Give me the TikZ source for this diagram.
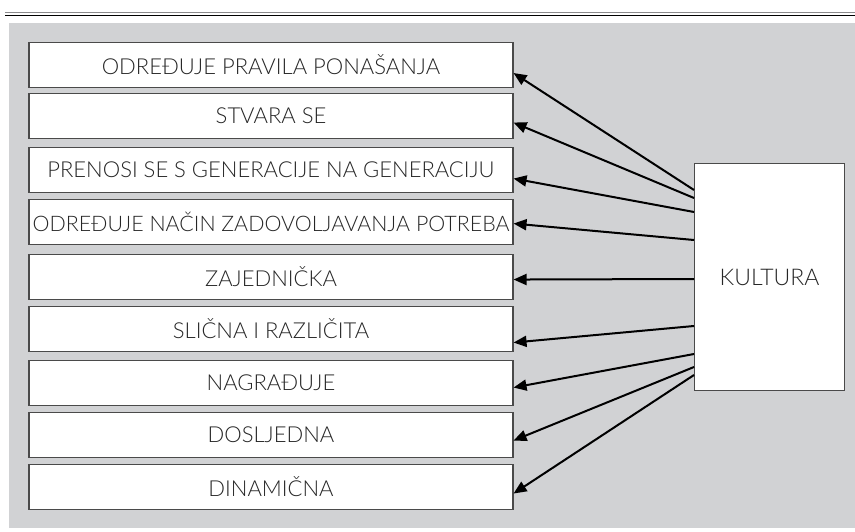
\documentclass[tikz,border=0pt]{standalone}
\usepackage{fontspec}
\setmainfont{Lato Light}
\usetikzlibrary{arrows.meta}
\definecolor{bggray}{HTML}{D1D2D4}
\definecolor{rulegray}{HTML}{8A8A8C}
\definecolor{boxline}{HTML}{4A4A4A}
\definecolor{txt}{HTML}{262626}
\tikzset{
  item/.style={draw=boxline, line width=1.1pt, fill=white, minimum width=484pt, minimum height=45pt, inner sep=0pt, font=\fontsize{22}{24}\selectfont, text=txt, anchor=north},
  kbox/.style={draw=boxline, line width=1.1pt, fill=white, minimum width=150pt, minimum height=227pt, inner sep=0pt, font=\fontsize{23}{25}\selectfont, text=txt, anchor=north west},
  arr/.style={line width=2pt, draw=black, -{Triangle[length=13pt,width=11pt]}}
}
\begin{document}
\begin{tikzpicture}[x=1pt,y=-1pt]
\useasboundingbox (0,0) rectangle (855,532);
\fill[white] (0,0) rectangle (855,532);
\draw[rulegray, line width=1.6pt] (5,12.7) -- (855,12.7);
\draw[black, line width=1.2pt] (5,15.3) -- (855,15.3);
\fill[bggray] (9,23) rectangle (855,528);
\node[item] (b1) at (271,42) {ODREĐUJE PRAVILA PONAŠANJA};
\node[item] (b2) at (271,93) {STVARA SE};
\node[item] (b3) at (271,147) {PRENOSI SE S GENERACIJE NA GENERACIJU};
\node[item, font=\fontsize{21.4}{24}\selectfont] (b4) at (271,199) {ODREĐUJE NAČIN ZADOVOLJAVANJA POTREBA};
\node[item] (b5) at (271,254) {ZAJEDNIČKA};
\node[item] (b6) at (271,306) {SLIČNA I RAZLIČITA};
\node[item] (b7) at (271,360) {NAGRAĐUJE};
\node[item] (b8) at (271,412) {DOSLJEDNA};
\node[item] (b9) at (271,464) {DINAMIČNA};
\node[kbox] (k) at (694,163) {KULTURA};
\draw[arr] ([yshift=-27pt]k.north west) -- ([yshift=-8pt]b1.east);
\draw[arr] ([yshift=-35pt]k.north west) -- ([yshift=-6.5pt]b2.east);
\draw[arr] ([yshift=-49pt]k.north west) -- ([yshift=-8.5pt]b3.east);
\draw[arr] ([yshift=-77pt]k.north west) -- ([yshift=-1.5pt]b4.east);
\draw[arr] ([yshift=-116pt]k.north west) -- ([yshift=-2.5pt]b5.east);
\draw[arr] ([yshift=-163pt]k.north west) -- ([yshift=-13.5pt]b6.east);
\draw[arr] ([yshift=-191pt]k.north west) -- ([yshift=-4.5pt]b7.east);
\draw[arr] ([yshift=-204pt]k.north west) -- ([yshift=-5.5pt]b8.east);
\draw[arr] ([yshift=-212pt]k.north west) -- ([yshift=-6.5pt]b9.east);
\end{tikzpicture}
\end{document}
